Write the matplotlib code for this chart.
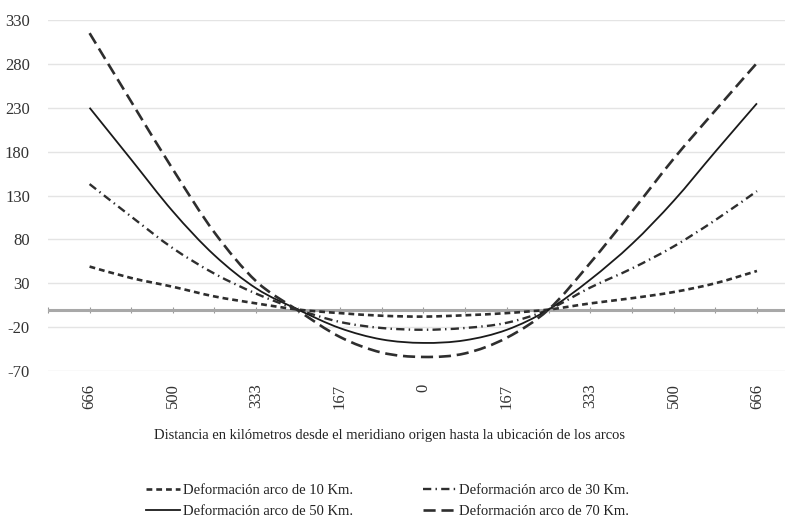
import numpy as np
import matplotlib.pyplot as plt
from matplotlib.path import Path
from matplotlib.patches import PathPatch

plt.rcParams['font.family'] = ['Liberation Serif', 'DejaVu Serif']
plt.rcParams['axes.unicode_minus'] = False

# distance from origin meridian (km), negative = left of the meridian
dist = [-666, -583, -500, -417, -333, -250, -167, -83, 0,
        83, 167, 250, 333, 417, 500, 583, 666]

def10 = [49, 36, 26, 15, 7, 0, -4, -7, -8, -6.5, -4, 0, 7, 13, 20, 30, 44]
def30 = [143, 106, 70, 41, 18, 0, -14, -21, -23, -21, -15, 0, 25, 47, 72, 102, 135]
def50 = [230, 171, 112, 62, 24, 0, -21, -34, -38, -35, -23, 0, 34, 75, 124, 180, 235]
def70 = [315, 237, 160, 88, 32, -1, -31, -49, -54, -50, -32, 0, 53, 112, 172, 227, 281]

label_pos = [-666, -500, -333, -167, 0, 167, 333, 500, 666]
label_txt = ['666', '500', '333', '167', '0', '167', '333', '500', '666']
yticks = [-70, -20, 30, 80, 130, 180, 230, 280, 330]

names = ['Deformación arco de 10 Km.', 'Deformación arco de 30 Km.',
         'Deformación arco de 50 Km.', 'Deformación arco de 70 Km.']


def smooth_path(xs, ys):
    # Catmull-Rom style bezier, like the smoothed lines of a spreadsheet chart
    p = np.column_stack([xs, ys]).astype(float)
    ext = np.vstack([p[0], p, p[-1]])
    verts = [p[0]]
    codes = [Path.MOVETO]
    for i in range(len(p) - 1):
        p0, p1, p2, p3 = ext[i], ext[i + 1], ext[i + 2], ext[i + 3]
        verts += [p1 + (p2 - p0) / 6, p2 - (p3 - p1) / 6, p2]
        codes += [Path.CURVE4] * 3
    return Path(verts, codes)


fig = plt.figure(figsize=(7.85, 5.18), dpi=100)
ax = fig.add_axes([48 / 785, 1 - 371 / 518, 1 - 48 / 785, (371 - 20) / 518])

xmin, xmax = -749, 722
ymin, ymax = -70, 330
ax.set_xlim(xmin, xmax)
ax.set_ylim(ymin, ymax)

# grid
ax.set_yticks(yticks)
ax.yaxis.grid(True, color='#e4e4e4', lw=1.0)
ax.set_axisbelow(True)
ax.axhline(0, color='#a8a8a8', lw=2.2, zorder=1)

dark = '#2e2e2e'
styles = [
    (def10, dict(color=dark, lw=1.9, dashes=(2.2, 1.5))),
    (def30, dict(color=dark, lw=1.7, dashes=(3.5, 1.8, 0.6, 1.8))),
    (def50, dict(color='#1a1a1a', lw=1.3, linestyle='-')),
    (def70, dict(color=dark, lw=1.9, dashes=(4.6, 2.2))),
]
handles = []
for vals, st in styles:
    ls = (0, st['dashes']) if 'dashes' in st else '-'
    ax.add_patch(PathPatch(smooth_path(dist, vals), fill=False, edgecolor=st['color'],
                           lw=st['lw'], linestyle=ls, zorder=3, capstyle='butt'))
    h, = ax.plot([], [], **st)
    handles.append(h)

for s in ax.spines.values():
    s.set_visible(False)

ax.tick_params(axis='y', length=0, pad=13, labelsize=12, labelcolor='#333333')
ax.set_xticks(label_pos)
ax.set_xticklabels(label_txt, rotation=90)
ax.tick_params(axis='x', length=0, pad=9, labelsize=12, labelcolor='#333333')

# small tick marks along the zero line
sec = ax.secondary_xaxis((0 - ymin) / (ymax - ymin))
sec.set_xticks([xmin] + dist)
sec.set_xticklabels([])
sec.tick_params(axis='x', direction='inout', length=5, color='#9a9a9a', width=0.8)
sec.spines['bottom'].set_visible(False)

fig.text(390 / 785, 1 - 435 / 518,
         'Distancia en kilómetros desde el meridiano origen hasta la ubicación de los arcos',
         ha='center', va='center', fontsize=10.5, color='#222222')

fig.legend([handles[0], handles[2], handles[1], handles[3]],
           [names[0], names[2], names[1], names[3]],
           ncol=2, loc='center', bbox_to_anchor=(388 / 785, 1 - 501 / 518),
           frameon=False, fontsize=10.5, handlelength=2.3, handletextpad=0.2,
           columnspacing=4.8, labelspacing=0.5, labelcolor='#222222')

fig.savefig('out.png', dpi=100)
